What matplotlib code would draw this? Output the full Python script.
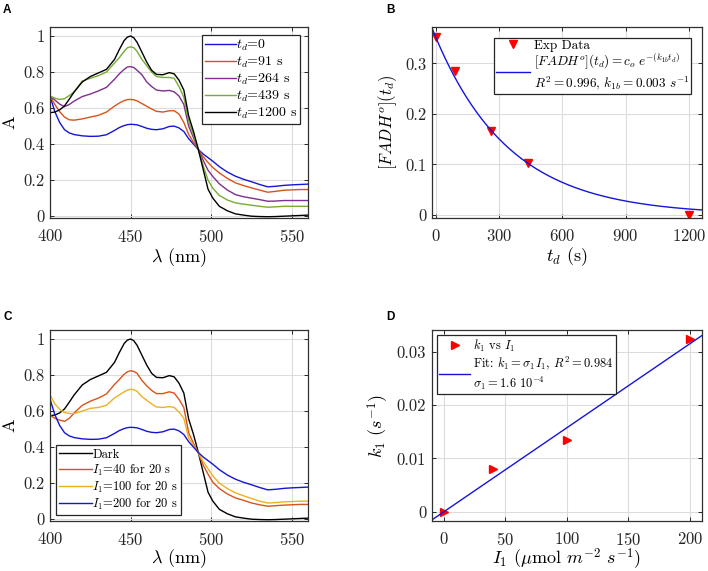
import numpy as np
import matplotlib
matplotlib.use("Agg")
import matplotlib.pyplot as plt

plt.rcParams['font.family'] = 'serif'
plt.rcParams['font.serif'] = ['cmr10', 'DejaVu Serif']
plt.rcParams['mathtext.fontset'] = 'cm'
plt.rcParams['axes.formatter.use_mathtext'] = True
plt.rcParams['axes.unicode_minus'] = False

# --- spectra (panels A and C) ---
wl = [400, 403, 406, 409, 412, 415, 420, 425, 430, 435, 440, 443, 446, 448, 450, 452,
      454, 457, 460, 463, 466, 470, 474, 477, 480, 483, 486, 489, 492, 495, 498, 501,
      505, 510, 515, 520, 525, 530, 535, 540, 545, 550, 555, 560]

a_t0 = [0.667, 0.58, 0.52, 0.48, 0.462, 0.453, 0.446, 0.443, 0.444, 0.452, 0.476, 0.492,
        0.503, 0.508, 0.51, 0.509, 0.507, 0.498, 0.488, 0.482, 0.48, 0.485, 0.498, 0.50,
        0.49, 0.47, 0.43, 0.40, 0.37, 0.345, 0.325, 0.305, 0.275, 0.245, 0.222, 0.205,
        0.191, 0.176, 0.163, 0.166, 0.171, 0.174, 0.176, 0.178]
a_t91 = [0.667, 0.62, 0.58, 0.55, 0.535, 0.533, 0.54, 0.55, 0.56, 0.578, 0.611, 0.628,
         0.642, 0.647, 0.648, 0.646, 0.64, 0.625, 0.61, 0.595, 0.582, 0.578, 0.585, 0.585,
         0.567, 0.52, 0.454, 0.41, 0.37, 0.33, 0.298, 0.27, 0.24, 0.21, 0.185, 0.17,
         0.157, 0.145, 0.133, 0.138, 0.144, 0.146, 0.148, 0.148]
a_t264 = [0.667, 0.645, 0.622, 0.608, 0.62, 0.639, 0.664, 0.678, 0.695, 0.715, 0.76, 0.79,
          0.815, 0.828, 0.83, 0.825, 0.81, 0.785, 0.745, 0.72, 0.70, 0.695, 0.698, 0.69,
          0.667, 0.62, 0.50, 0.435, 0.37, 0.31, 0.255, 0.22, 0.18, 0.145, 0.12, 0.108,
          0.10, 0.092, 0.083, 0.084, 0.087, 0.087, 0.087, 0.087]
a_t439 = [0.667, 0.655, 0.648, 0.652, 0.67, 0.69, 0.75, 0.765, 0.78, 0.80, 0.85, 0.88,
          0.915, 0.935, 0.94, 0.935, 0.915, 0.87, 0.835, 0.80, 0.775, 0.77, 0.77, 0.765,
          0.72, 0.66, 0.528, 0.45, 0.37, 0.28, 0.20, 0.155, 0.115, 0.09, 0.074, 0.067,
          0.061, 0.055, 0.05, 0.052, 0.055, 0.055, 0.055, 0.055]
a_t1200 = [0.574, 0.578, 0.59, 0.612, 0.65, 0.69, 0.745, 0.775, 0.795, 0.815, 0.87, 0.925,
           0.975, 0.994, 1.0, 0.99, 0.965, 0.91, 0.855, 0.81, 0.787, 0.785, 0.797, 0.79,
           0.755, 0.70, 0.556, 0.47, 0.37, 0.26, 0.15, 0.10, 0.055, 0.03, 0.013, 0.006,
           0.0, -0.002, -0.003, -0.002, 0.0, 0.002, 0.004, 0.006]
a_i40 = [0.577, 0.56, 0.55, 0.543, 0.56, 0.59, 0.632, 0.655, 0.672, 0.695, 0.748, 0.775,
         0.805, 0.818, 0.824, 0.82, 0.81, 0.77, 0.74, 0.715, 0.697, 0.697, 0.707, 0.70,
         0.665, 0.62, 0.48, 0.42, 0.368, 0.30, 0.25, 0.205, 0.17, 0.14, 0.118, 0.105,
         0.09, 0.08, 0.072, 0.075, 0.078, 0.08, 0.082, 0.082]
a_i100 = [0.69, 0.64, 0.61, 0.592, 0.587, 0.586, 0.60, 0.615, 0.62, 0.632, 0.673, 0.69,
          0.707, 0.716, 0.721, 0.718, 0.71, 0.68, 0.66, 0.64, 0.623, 0.62, 0.625, 0.62,
          0.595, 0.56, 0.45, 0.41, 0.368, 0.32, 0.28, 0.24, 0.20, 0.17, 0.146, 0.13,
          0.115, 0.10, 0.09, 0.092, 0.096, 0.098, 0.10, 0.10]

labels_a = ['$t_d$=0', '$t_d$=91 s', '$t_d$=264 s', '$t_d$=439 s', '$t_d$=1200 s']
labels_c = ['Dark', '$I_1$=40 for 20 s', '$I_1$=100 for 20 s', '$I_1$=200 for 20 s']

# --- panel B ---
td = [0, 91, 264, 439, 1200]
fadh = [0.353, 0.284, 0.166, 0.102, 0.0]
c0 = 0.352
k1b = 0.00283

# --- panel D ---
I1 = [0, 40, 100, 200]
k1 = [0.0, 0.0081, 0.0134, 0.0325]
sigma1 = 1.575e-4

c_blue = '#1515d9'
c_orange = '#D95319'
c_purple = '#7E2F8E'
c_green = '#77AC30'
c_yellow = '#EDB120'
c_red = '#ff0000'

fig = plt.figure(figsize=(7.08, 5.71), dpi=100)
W, H = 708.0, 571.0


def make_ax(x0, y0, x1, y1):
    ax = fig.add_axes([x0 / W, 1 - y1 / H, (x1 - x0) / W, (y1 - y0) / H])
    ax.grid(True, color='#dcdcdc', lw=0.8)
    ax.set_axisbelow(True)
    for s in ax.spines.values():
        s.set_color('#303030')
        s.set_linewidth(0.9)
    ax.tick_params(direction='in', length=3, width=0.7, labelsize=12,
                   top=True, right=True, colors='#262626', pad=4)
    ax.tick_params(axis='x', pad=7)
    return ax


def style_legend(leg):
    fr = leg.get_frame()
    fr.set_edgecolor('#262626')
    fr.set_linewidth(0.9)
    fr.set_boxstyle('square', pad=0)


axA = make_ax(50, 27, 308, 218)
axB = make_ax(431.7, 27, 702, 218)
axC = make_ax(50, 330, 308, 521)
axD = make_ax(431.7, 330, 702, 521)

# A
for y, c, lab in zip([a_t0, a_t91, a_t264, a_t439, a_t1200],
                     [c_blue, c_orange, c_purple, c_green, 'k'], labels_a):
    axA.plot(wl, y, color=c, lw=1.0, label=lab)
axA.set_xlim(400, 560)
axA.set_ylim(-0.01, 1.05)
axA.set_xticks([400, 450, 500, 550])
axA.set_yticks([0, 0.2, 0.4, 0.6, 0.8, 1])
axA.set_yticklabels(['0', '0.2', '0.4', '0.6', '0.8', '1'])
axA.set_xlabel(r'$\lambda$ (nm)', fontsize=13, labelpad=1)
axA.set_ylabel('A', fontsize=13)
leg = axA.legend(loc='upper right', fontsize=10, handlelength=2.2, handletextpad=0.05,
                 labelspacing=0.12, borderpad=0.2, fancybox=False, framealpha=1,
                 borderaxespad=0.55)
style_legend(leg)

# B
tt = np.linspace(-19, 1262, 300)
axB.plot(td, fadh, 'v', color=c_red, ms=6, label='Exp Data')
axB.plot(tt, c0 * np.exp(-k1b * tt), color=c_blue, lw=1.0,
         label='$[FADH^o](t_d) = c_o\\ e^{-(k_{1b} t_d)}$\n$R^2 = 0.996$, $k_{1b} = 0.003\\ s^{-1}$')
axB.set_xlim(-19, 1262)
axB.set_ylim(-0.006, 0.372)
axB.set_xticks([0, 300, 600, 900, 1200])
axB.set_yticks([0, 0.1, 0.2, 0.3])
axB.set_yticklabels(['0', '0.1', '0.2', '0.3'])
axB.set_xlabel('$t_d$ (s)', fontsize=13, labelpad=1)
axB.set_ylabel('$[FADH^o](t_d)$', fontsize=12)
leg = axB.legend(loc='upper right', fontsize=9.5, handlelength=2.6, handletextpad=0.3,
                 labelspacing=0.0, borderpad=0.15, fancybox=False, framealpha=1,
                 borderaxespad=0.8)
style_legend(leg)

# C
for y, c, lab in zip([a_t1200, a_i40, a_i100, a_t0],
                     ['k', c_orange, c_yellow, c_blue], labels_c):
    axC.plot(wl, y, color=c, lw=1.0, label=lab)
axC.set_xlim(400, 560)
axC.set_ylim(-0.01, 1.05)
axC.set_xticks([400, 450, 500, 550])
axC.set_yticks([0, 0.2, 0.4, 0.6, 0.8, 1])
axC.set_yticklabels(['0', '0.2', '0.4', '0.6', '0.8', '1'])
axC.set_xlabel(r'$\lambda$ (nm)', fontsize=13, labelpad=0)
axC.set_ylabel('A', fontsize=13)
leg = axC.legend(loc='lower left', fontsize=9, handlelength=2.6, handletextpad=0.05,
                 labelspacing=0.15, borderpad=0.25, fancybox=False, framealpha=1,
                 borderaxespad=0.5)
style_legend(leg)

# D
xx = np.array([-10, 210])
axD.plot(I1, k1, '>', color=c_red, ms=6, label='$k_1$ vs $I_1$')
axD.plot(xx, sigma1 * xx, color=c_blue, lw=1.0,
         label='Fit: $k_1 = \\sigma_1 I_1$, $R^2 = 0.984$\n$\\sigma_1 = 1.6\\ 10^{-4}$')
axD.set_xlim(-10, 210)
axD.set_ylim(-0.00175, 0.0341)
axD.set_xticks([0, 50, 100, 150, 200])
axD.set_yticks([0, 0.01, 0.02, 0.03])
axD.set_yticklabels(['0', '0.01', '0.02', '0.03'])
axD.set_xlabel('$I_1$ ($\\mu$mol $m^{-2}$ $s^{-1}$)', fontsize=13, labelpad=-1)
axD.set_ylabel('$k_1$ ($s^{-1}$)', fontsize=13)
leg = axD.legend(loc='upper left', fontsize=9, handlelength=2.5, handletextpad=0.2,
                 labelspacing=0.1, borderpad=0.2, fancybox=False, framealpha=1,
                 borderaxespad=0.4)
style_legend(leg)

for lab, x, y in [('A', 3, 13), ('B', 386, 13), ('C', 3, 320), ('D', 386, 320)]:
    fig.text(x / W, 1 - y / H, lab, fontsize=8.5, fontweight='bold',
             family='Liberation Sans', va='baseline')

fig.savefig('out.png', dpi=100)
